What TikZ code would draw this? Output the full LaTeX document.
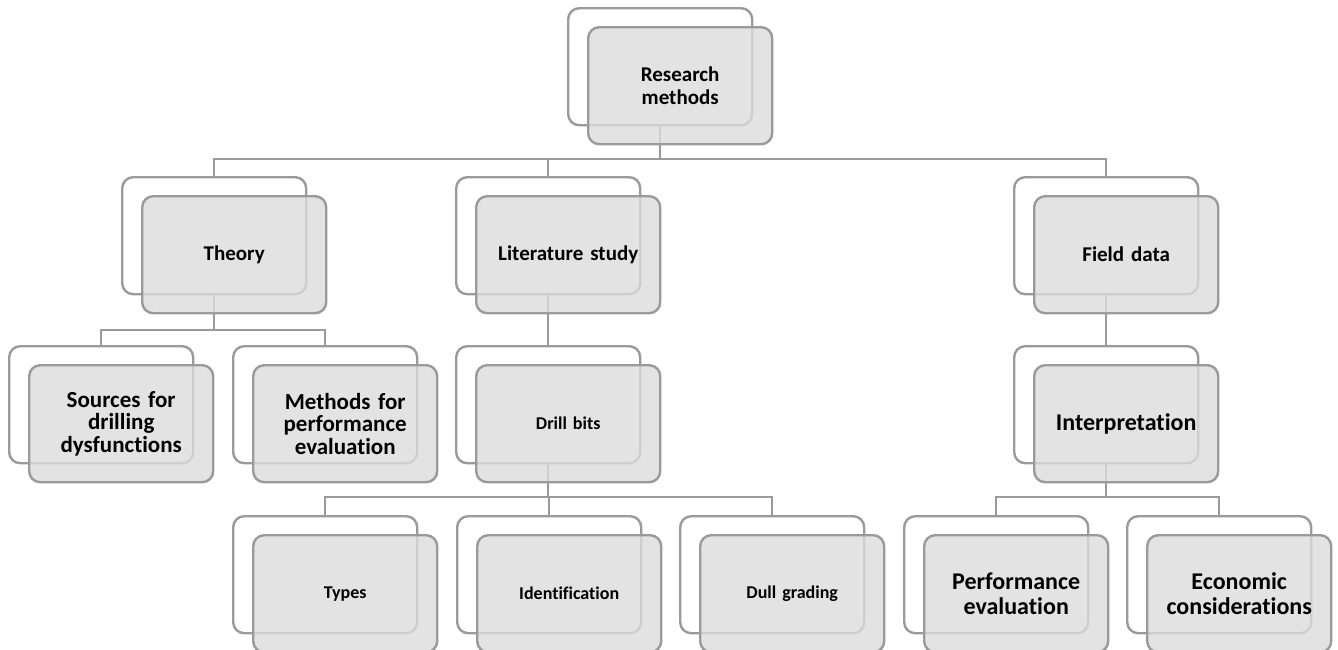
\documentclass[tikz,border=0pt]{standalone}
\usepackage{fontspec}
\setmainfont{Carlito}[Ligatures=NoCommon]
\definecolor{edge}{HTML}{9A9A9A}
\definecolor{boxfill}{HTML}{DCDCDC}
\tikzset{
  backbox/.style={draw=edge, line width=2.4pt, fill=white, rounded corners=11pt,
    minimum width=184pt, minimum height=117pt, anchor=north west, inner sep=0pt},
  frontbox/.style={draw=edge, line width=2.4pt, fill=boxfill, fill opacity=0.8, text opacity=1,
    rounded corners=11pt, minimum width=184pt, minimum height=117pt, anchor=north west,
    inner sep=0pt, align=center, text width=176pt, font=\bfseries},
  conn/.style={draw=edge, line width=2pt},
  fsA/.style={font=\bfseries\fontsize{21}{23}\selectfont},
  fsS/.style={font=\bfseries\fontsize{23}{22.5}\selectfont},
  fsB/.style={font=\bfseries\fontsize{18}{20}\selectfont},
  fsC/.style={font=\bfseries\fontsize{24}{25.5}\selectfont},
}
\begin{document}
\begin{tikzpicture}[x=1pt,y=-1pt]
\useasboundingbox (0,0) rectangle (1338,649);
\coordinate (bus1) at (0,159);
\coordinate (bus2) at (0,330);
\coordinate (bus3) at (0,497);
% back boxes
\node[backbox] (rm-b) at (567,7) {};
\node[backbox] (th-b) at (121,176) {};
\node[backbox] (lit-b) at (455,176) {};
\node[backbox] (fd-b) at (1013,176) {};
\node[backbox] (src-b) at (8,345) {};
\node[backbox] (mth-b) at (232,345) {};
\node[backbox] (db-b) at (455,345) {};
\node[backbox] (int-b) at (1013,345) {};
\node[backbox] (ty-b) at (232,515) {};
\node[backbox] (id-b) at (456,515) {};
\node[backbox] (dg-b) at (679,515) {};
\node[backbox] (pe-b) at (903,515) {};
\node[backbox] (ec-b) at (1126,515) {};
% connectors
\draw[conn] (rm-b.south) -- (rm-b.south |- bus1);
\draw[conn] (th-b.north) -- (th-b.north |- bus1) -- (fd-b.north |- bus1) -- (fd-b.north);
\draw[conn] (lit-b.north) -- (lit-b.north |- bus1);
\draw[conn] (th-b.south) -- (th-b.south |- bus2);
\draw[conn] (src-b.north) -- (src-b.north |- bus2) -- (mth-b.north |- bus2) -- (mth-b.north);
\draw[conn] (lit-b.south) -- (db-b.north);
\draw[conn] (fd-b.south) -- (int-b.north);
\draw[conn] (db-b.south) -- (db-b.south |- bus3);
\draw[conn] (ty-b.north) -- (ty-b.north |- bus3) -- (dg-b.north |- bus3) -- (dg-b.north);
\draw[conn] (id-b.north) -- (id-b.north |- bus3);
\draw[conn] (int-b.south) -- (int-b.south |- bus3);
\draw[conn] (pe-b.north) -- (pe-b.north |- bus3) -- (ec-b.north |- bus3) -- (ec-b.north);
% front boxes
\node[frontbox,fsA] (rm-f) at (587,26) {Research\\methods};
\node[frontbox,fsA] (th-f) at (141,195) {Theory};
\node[frontbox,fsA] (lit-f) at (475,195) {Literature study};
\node[frontbox,fsA] (fd-f) at (1033,195) {Field data};
\node[frontbox,fsS] (src-f) at (28,364) {Sources for\\drilling\\dysfunctions};
\node[frontbox,fsS] (mth-f) at (252,364) {Methods for\\performance\\evaluation};
\node[frontbox,fsB] (db-f) at (475,364) {Drill bits};
\node[frontbox,fsC] (int-f) at (1033,364) {Interpretation};
\node[frontbox,fsB] (ty-f) at (252,534) {Types};
\node[frontbox,fsB] (id-f) at (476,534) {Identification};
\node[frontbox,fsB] (dg-f) at (699,534) {Dull grading};
\node[frontbox,fsC] (pe-f) at (923,534) {Performance\\evaluation};
\node[frontbox,fsC] (ec-f) at (1146,534) {Economic\\considerations};
\end{tikzpicture}
\end{document}
